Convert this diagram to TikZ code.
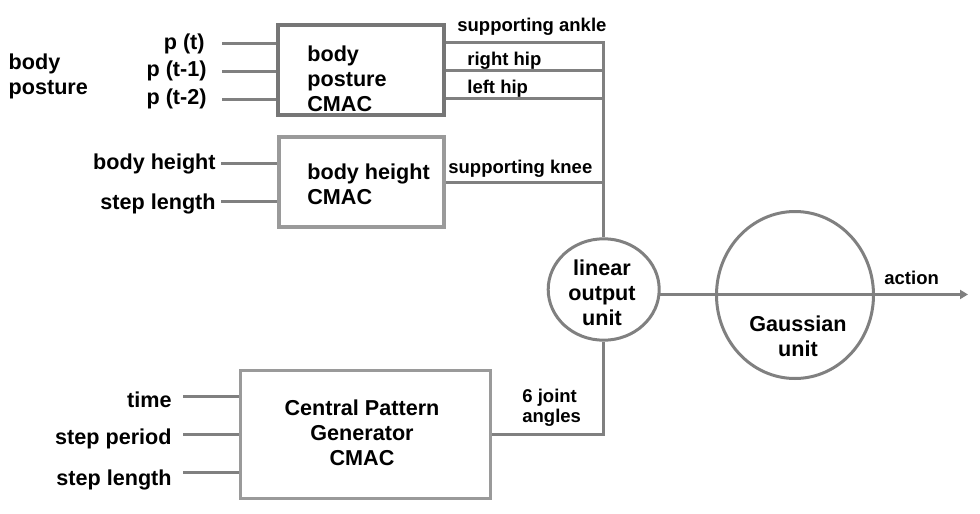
\documentclass[tikz,border=0pt]{standalone}
\usepackage{fontspec}
\setmainfont{Liberation Sans}
\usetikzlibrary{shapes.geometric,arrows.meta}

\begin{document}
\begin{tikzpicture}[x=0.5pt,y=-0.5pt,
    txt/.style={inner sep=0pt, font=\fontsize{10.8}{12.5}\selectfont\bfseries},
    inlbl/.style={txt, anchor=east},
    outlbl/.style={inner sep=0pt, font=\fontsize{9.25}{9.85}\selectfont\bfseries},
    wire/.style={draw=wiregray, line width=1.5pt},
    cmac/.style={draw=#1, line width=2pt, inner sep=0pt},
    unit/.style={ellipse, draw=wiregray, line width=1.5pt, inner sep=0pt}]
    % Define colors
    \definecolor{wiregray}{HTML}{808080}
    \definecolor{darkbox}{HTML}{767676}
    \definecolor{lightbox}{HTML}{9A9A9A}

    \useasboundingbox (0,0) rectangle (980,514);

    % CMAC boxes
    \node[cmac=darkbox, minimum width=83pt, minimum height=45pt] (bp) at (361,70.3) {};
    \node[cmac=lightbox, minimum width=82.5pt, minimum height=45pt] (bh) at (361.5,182) {};
    \node[cmac=lightbox, line width=1.5pt, minimum width=124.75pt, minimum height=64pt] (cpg) at (365.3,434.5) {};

    % box texts
    \node[txt, anchor=west, align=left] (bpt) at (307,79) {body\\posture\\CMAC};
    \node[txt, anchor=west, align=left] (bht) at (307,184.5) {body height\\CMAC};
    \node[txt, align=center] (cpgt) at (362,433) {Central Pattern\\Generator\\CMAC};

    % output units
    \node[unit, minimum width=55.5pt, minimum height=50.7pt] (lin) at (603.7,289.5) {};
    \node[txt, align=center] (lint) at (602,293) {linear\\output\\unit};
    \node[unit, minimum width=78.5pt, minimum height=83.5pt] (gau) at (795,295) {};
    \node[txt, align=center] (gaut) at (798,336) {Gaussian\\unit};
    \coordinate (act) at (968,295);

    % body posture inputs
    \node[txt, anchor=west, align=left] (post) at (8.3,76) {body\\posture};
    \node[inlbl] (pt)  at (205,43.5) {p (t)};
    \node[inlbl] (pt1) at (207,71) {p (t-1)};
    \node[inlbl] (pt2) at (207,99) {p (t-2)};
    \foreach \nm/\gap in {pt/8.5, pt1/7.5, pt2/7.5}
      \draw[wire] ([xshift=\gap pt]\nm.east) -- (\nm.east -| bp.west);

    % body height inputs
    \node[inlbl] (bhin) at (216,163.5) {body height};
    \node[inlbl] (slin) at (216,203.5) {step length};
    \draw[wire] ([xshift=2.5pt]bhin.east) -- (bhin.east -| bh.west);
    \draw[wire] ([xshift=2.5pt, yshift=1pt]slin.east) -- ([yshift=1pt]slin.east -| bh.west);

    % CPG inputs
    \node[inlbl] (tin) at (172,399.5) {time};
    \node[inlbl] (spin) at (172,438.5) {step period};
    \node[inlbl] (cslin) at (172,479.5) {step length};
    \coordinate (tend) at (183.3,396.7);
    \coordinate (spend) at (183.3,434.3);
    \coordinate (slend) at (183.3,472);
    \foreach \nm in {tend, spend, slend}
      \draw[wire] (\nm) -- (\nm -| cpg.west);

    % outputs to the linear unit
    \draw[wire] ([yshift=13.8pt]bp.east) -| (lin.north);
    \draw[wire] (bp.east) -- (bp.east -| lin.north);
    \draw[wire] ([yshift=-14pt]bp.east) -- ([yshift=-14pt]bp.east -| lin.north);
    \draw[wire] (bh.east) -- (bh.east -| lin.north);
    \draw[wire] (lin.south) |- (cpg.east);
    \draw[wire, -{Triangle[length=4pt, width=4.5pt]}] (lin.-5) -- (lin.-5 -| act);

    % output labels
    \node[outlbl, anchor=base west] (ank) at (457,32) {supporting ankle};
    \node[outlbl, anchor=base west] (rhip) at (467,65) {right hip};
    \node[outlbl, anchor=base west] (lhip) at (467,93) {left hip};
    \node[outlbl, anchor=base west] (knee) at (448,173) {supporting knee};
    \node[outlbl, anchor=west, align=left] (jnt) at (522,408) {6 joint\\angles};
    \node[outlbl, anchor=base west] (actl) at (884,284.3) {action};
  \end{tikzpicture}
\end{document}
